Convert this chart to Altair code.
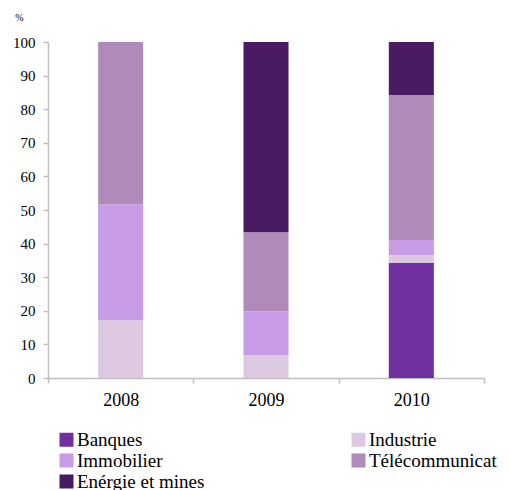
import altair as alt
import pandas as pd

years = ["2008", "2009", "2010"]
sectors = ["Banques", "Industrie", "Immobilier", "Télécommunicat", "Enérgie et mines"]
colors = ["#7030A0", "#DCC8E0", "#C89BE6", "#B08AB9", "#4A1A63"]
banques = [0, 0, 34.2]
industrie = [17.2, 6.8, 2.4]
immobilier = [34.5, 13.1, 4.5]
telecom = [48.3, 23.5, 43.1]
energie = [0, 56.6, 15.8]
y_ticks = [0, 10, 20, 30, 40, 50, 60, 70, 80, 90, 100]

# legend is filled column by column: order the legend entries accordingly
legend_order = [0, 2, 4, 1, 3]
legend_domain = [sectors[i] for i in legend_order]
legend_range = [colors[i] for i in legend_order]

series = [banques, industrie, immobilier, telecom, energie]
rows = []
for si, (name, vals) in enumerate(zip(sectors, series)):
    for yi, yr in enumerate(years):
        rows.append({"year": yr, "sector": name, "value": vals[yi], "idx": si})
df = pd.DataFrame(rows)

FONT = "serif"
GREY = "#C0C0C0"

chart = alt.Chart(df).mark_bar(width=alt.RelativeBandSize(0.31)).encode(
    x=alt.X(
        "year:N",
        sort=years,
        scale=alt.Scale(paddingInner=0, paddingOuter=0),
        axis=alt.Axis(
            title=None, tickBand="extent", labelAngle=0, labelFont=FONT,
            labelFontSize=18, labelColor="#000000", labelPadding=8,
            tickSize=5, domainColor=GREY, tickColor=GREY,
            domainWidth=1.5, tickWidth=1.5, grid=False,
        ),
    ),
    y=alt.Y(
        "value:Q",
        stack="zero",
        scale=alt.Scale(domain=[0, 100], nice=False),
        axis=alt.Axis(
            values=y_ticks, title="%", titleAngle=0, titleX=-29, titleY=-25,
            titleAlign="center", titleBaseline="middle", titleFont=FONT,
            titleFontSize=10, titleFontWeight="normal", titleColor="#000000",
            labelFont=FONT, labelFontSize=15, labelColor="#000000",
            labelPadding=8, tickSize=5, domainColor=GREY, tickColor=GREY,
            domainWidth=1.5, tickWidth=1.5, grid=False,
        ),
    ),
    color=alt.Color(
        "sector:N",
        scale=alt.Scale(domain=legend_domain, range=legend_range),
        legend=alt.Legend(
            title=None, orient="none", legendX=9, legendY=388, columns=2,
            columnPadding=144, rowPadding=1, symbolType="square",
            symbolSize=196, symbolStrokeWidth=0, labelFont=FONT,
            labelFontSize=19, labelColor="#000000", labelOffset=1, padding=0,
        ),
    ),
    order=alt.Order("idx:Q", sort="ascending"),
).properties(
    width=436,
    height=336,
    autosize="none",
    padding={"left": 48, "top": 42, "right": 25, "bottom": 112},
).configure_view(stroke=None)

chart.save("out.html", embed_options={"renderer": "svg", "actions": False})
